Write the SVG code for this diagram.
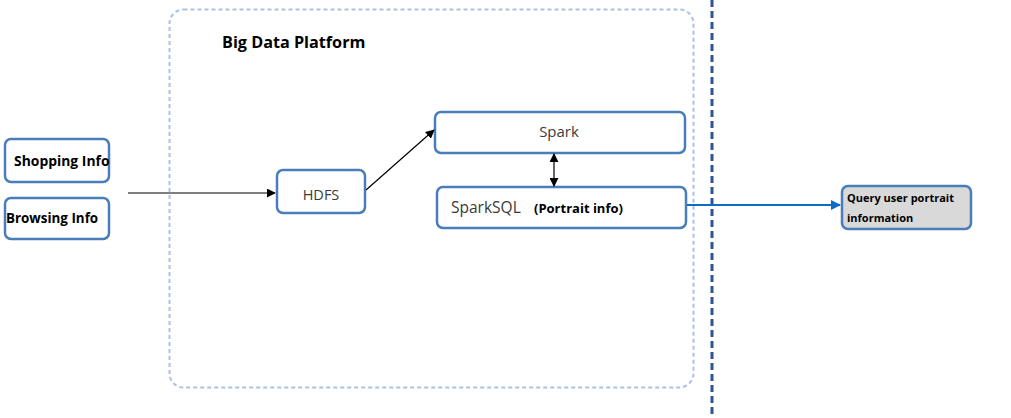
<svg xmlns="http://www.w3.org/2000/svg" width="1011" height="418" viewBox="0 0 1011 418">
<defs>
<style>
.box{fill:#fff;stroke:#4a7ebb;stroke-width:2.5}
.bt{font-family:"Open Sans","Liberation Sans",sans-serif;font-weight:bold;fill:#000}
.nt{font-family:"Open Sans","Liberation Sans",sans-serif;fill:#3a3a3a}
.ln{stroke:#000;stroke-width:1.2;fill:none}
</style>
<marker id="ah" viewBox="0 0 10 10" refX="9" refY="5" markerWidth="9" markerHeight="9" markerUnits="userSpaceOnUse" orient="auto-start-reverse"><path d="M0,0 L10,5 L0,10 z" fill="#000"/></marker>
<marker id="ahb" viewBox="0 0 10 10" refX="9" refY="5" markerWidth="10" markerHeight="10" markerUnits="userSpaceOnUse" orient="auto"><path d="M0,0 L10,5 L0,10 z" fill="#0e6cc4"/></marker>
</defs>
<rect width="1011" height="418" fill="#fff"/>
<g id="platform">
<rect x="169.5" y="9.5" width="524" height="378" rx="14" fill="none" stroke="#a9c1e3" stroke-width="2" stroke-dasharray="4,3"/>
<text class="bt" x="222" y="48" font-size="16.2">Big Data Platform</text>
</g>
<line x1="712" y1="0" x2="712" y2="418" stroke="#2f5597" stroke-width="3" stroke-dasharray="7,4"/>
<g id="shopping"><rect class="box" x="5" y="139" width="104" height="43" rx="6"/><text class="bt" x="14" y="166" font-size="13.9">Shopping Info</text></g>
<g id="browsing"><rect class="box" x="5" y="198" width="104" height="41" rx="6"/><text class="bt" x="6" y="223" font-size="13.4">Browsing Info</text></g>
<g id="hdfs"><rect class="box" x="277" y="170" width="88" height="43" rx="6"/><text class="nt" x="321" y="200" font-size="14.5" text-anchor="middle">HDFS</text></g>
<g id="spark"><rect class="box" x="435" y="112" width="250" height="41" rx="6"/><text class="nt" x="559" y="137" font-size="15" text-anchor="middle">Spark</text></g>
<g id="sparksql"><rect class="box" x="437" y="187" width="249" height="41" rx="6"/><text class="nt" x="451" y="213" font-size="15.5">SparkSQL</text><text class="bt" x="534" y="213" font-size="13">(Portrait info)</text></g>
<g id="query"><rect x="842" y="186" width="129" height="43" rx="6" fill="#d9d9d9" stroke="#4a7ebb" stroke-width="2.5"/><text class="bt" x="847" y="202" font-size="11">Query user portrait</text><text class="bt" x="847" y="222" font-size="11">information</text></g>
<g id="connectors">
<line class="ln" x1="128" y1="193" x2="275" y2="193" marker-end="url(#ah)"/>
<line class="ln" x1="366" y1="190" x2="434" y2="130" marker-end="url(#ah)"/>
<line class="ln" x1="554" y1="154" x2="554" y2="186" marker-start="url(#ah)" marker-end="url(#ah)"/>
<line x1="687" y1="205" x2="840" y2="205" stroke="#0e6cc4" stroke-width="2" marker-end="url(#ahb)"/>
</g>
</svg>
